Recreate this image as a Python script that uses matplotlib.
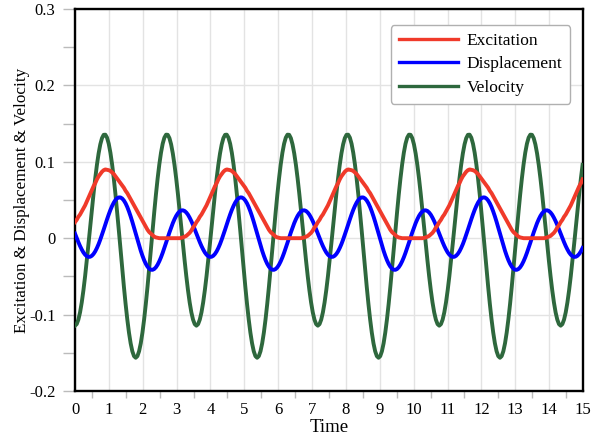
import numpy as np
import matplotlib
matplotlib.use('Agg')
import matplotlib.pyplot as plt

# 72 samples per cycle, one cycle ~3.585 s
time = np.arange(302) * 3.585 / 72

excitation = [
    0.021, 0.024, 0.028, 0.031, 0.035, 0.039, 0.043, 0.048, 0.053, 0.058, 0.063, 0.068,
    0.072, 0.077, 0.081, 0.084, 0.087, 0.089, 0.090, 0.0895, 0.089, 0.088, 0.086, 0.084,
    0.081, 0.078, 0.075, 0.072, 0.069, 0.066, 0.062, 0.059, 0.055, 0.051, 0.047, 0.043,
    0.039, 0.035, 0.031, 0.027, 0.023, 0.019, 0.015, 0.011, 0.008, 0.006, 0.004, 0.002,
    0.001, 0.0005, 0.000, 0.000, 0.000, 0.000, 0.000, 0.000, 0.000, 0.000, 0.000, 0.000,
    0.000, 0.000, 0.000, 0.0005, 0.001, 0.002, 0.003, 0.005, 0.007, 0.010, 0.014, 0.017,
    0.021, 0.024, 0.028, 0.031, 0.035, 0.039, 0.043, 0.048, 0.053, 0.058, 0.063, 0.068,
    0.072, 0.077, 0.081, 0.084, 0.087, 0.089, 0.090, 0.0895, 0.089, 0.088, 0.086, 0.084,
    0.081, 0.078, 0.075, 0.072, 0.069, 0.066, 0.062, 0.059, 0.055, 0.051, 0.047, 0.043,
    0.039, 0.035, 0.031, 0.027, 0.023, 0.019, 0.015, 0.011, 0.008, 0.006, 0.004, 0.002,
    0.001, 0.0005, 0.000, 0.000, 0.000, 0.000, 0.000, 0.000, 0.000, 0.000, 0.000, 0.000,
    0.000, 0.000, 0.000, 0.0005, 0.001, 0.002, 0.003, 0.005, 0.007, 0.010, 0.014, 0.017,
    0.021, 0.024, 0.028, 0.031, 0.035, 0.039, 0.043, 0.048, 0.053, 0.058, 0.063, 0.068,
    0.072, 0.077, 0.081, 0.084, 0.087, 0.089, 0.090, 0.0895, 0.089, 0.088, 0.086, 0.084,
    0.081, 0.078, 0.075, 0.072, 0.069, 0.066, 0.062, 0.059, 0.055, 0.051, 0.047, 0.043,
    0.039, 0.035, 0.031, 0.027, 0.023, 0.019, 0.015, 0.011, 0.008, 0.006, 0.004, 0.002,
    0.001, 0.0005, 0.000, 0.000, 0.000, 0.000, 0.000, 0.000, 0.000, 0.000, 0.000, 0.000,
    0.000, 0.000, 0.000, 0.0005, 0.001, 0.002, 0.003, 0.005, 0.007, 0.010, 0.014, 0.017,
    0.021, 0.024, 0.028, 0.031, 0.035, 0.039, 0.043, 0.048, 0.053, 0.058, 0.063, 0.068,
    0.072, 0.077, 0.081, 0.084, 0.087, 0.089, 0.090, 0.0895, 0.089, 0.088, 0.086, 0.084,
    0.081, 0.078, 0.075, 0.072, 0.069, 0.066, 0.062, 0.059, 0.055, 0.051, 0.047, 0.043,
    0.039, 0.035, 0.031, 0.027, 0.023, 0.019, 0.015, 0.011, 0.008, 0.006, 0.004, 0.002,
    0.001, 0.0005, 0.000, 0.000, 0.000, 0.000, 0.000, 0.000, 0.000, 0.000, 0.000, 0.000,
    0.000, 0.000, 0.000, 0.0005, 0.001, 0.002, 0.003, 0.005, 0.007, 0.010, 0.014, 0.017,
    0.021, 0.024, 0.028, 0.031, 0.035, 0.039, 0.043, 0.048, 0.053, 0.058, 0.063, 0.068,
    0.072, 0.077,
]

displacement = [
    0.0060, 0.0003, -0.0052, -0.0103, -0.0148, -0.0187, -0.0216, -0.0236, -0.0245, -0.0243, -0.0230, -0.0206,
    -0.0172, -0.0128, -0.0077, -0.0018, 0.0046, 0.0112, 0.0180, 0.0247, 0.0311, 0.0370, 0.0422, 0.0466,
    0.0500, 0.0523, 0.0534, 0.0533, 0.0519, 0.0493, 0.0456, 0.0408, 0.0350, 0.0285, 0.0214, 0.0138,
    0.0060, -0.0018, -0.0094, -0.0165, -0.0230, -0.0288, -0.0336, -0.0373, -0.0399, -0.0413, -0.0414, -0.0403,
    -0.0380, -0.0346, -0.0302, -0.0250, -0.0191, -0.0127, -0.0060, 0.0008, 0.0075, 0.0138, 0.0197, 0.0248,
    0.0292, 0.0326, 0.0350, 0.0363, 0.0365, 0.0356, 0.0336, 0.0307, 0.0268, 0.0223, 0.0172, 0.0117,
    0.0060, 0.0003, -0.0052, -0.0103, -0.0148, -0.0187, -0.0216, -0.0236, -0.0245, -0.0243, -0.0230, -0.0206,
    -0.0172, -0.0128, -0.0077, -0.0018, 0.0046, 0.0112, 0.0180, 0.0247, 0.0311, 0.0370, 0.0422, 0.0466,
    0.0500, 0.0523, 0.0534, 0.0533, 0.0519, 0.0493, 0.0456, 0.0408, 0.0350, 0.0285, 0.0214, 0.0138,
    0.0060, -0.0018, -0.0094, -0.0165, -0.0230, -0.0288, -0.0336, -0.0373, -0.0399, -0.0413, -0.0414, -0.0403,
    -0.0380, -0.0346, -0.0302, -0.0250, -0.0191, -0.0127, -0.0060, 0.0008, 0.0075, 0.0138, 0.0197, 0.0248,
    0.0292, 0.0326, 0.0350, 0.0363, 0.0365, 0.0356, 0.0336, 0.0307, 0.0268, 0.0223, 0.0172, 0.0117,
    0.0060, 0.0003, -0.0052, -0.0103, -0.0148, -0.0187, -0.0216, -0.0236, -0.0245, -0.0243, -0.0230, -0.0206,
    -0.0172, -0.0128, -0.0077, -0.0018, 0.0046, 0.0112, 0.0180, 0.0247, 0.0311, 0.0370, 0.0422, 0.0466,
    0.0500, 0.0523, 0.0534, 0.0533, 0.0519, 0.0493, 0.0456, 0.0408, 0.0350, 0.0285, 0.0214, 0.0138,
    0.0060, -0.0018, -0.0094, -0.0165, -0.0230, -0.0288, -0.0336, -0.0373, -0.0399, -0.0413, -0.0414, -0.0403,
    -0.0380, -0.0346, -0.0302, -0.0250, -0.0191, -0.0127, -0.0060, 0.0008, 0.0075, 0.0138, 0.0197, 0.0248,
    0.0292, 0.0326, 0.0350, 0.0363, 0.0365, 0.0356, 0.0336, 0.0307, 0.0268, 0.0223, 0.0172, 0.0117,
    0.0060, 0.0003, -0.0052, -0.0103, -0.0148, -0.0187, -0.0216, -0.0236, -0.0245, -0.0243, -0.0230, -0.0206,
    -0.0172, -0.0128, -0.0077, -0.0018, 0.0046, 0.0112, 0.0180, 0.0247, 0.0311, 0.0370, 0.0422, 0.0466,
    0.0500, 0.0523, 0.0534, 0.0533, 0.0519, 0.0493, 0.0456, 0.0408, 0.0350, 0.0285, 0.0214, 0.0138,
    0.0060, -0.0018, -0.0094, -0.0165, -0.0230, -0.0288, -0.0336, -0.0373, -0.0399, -0.0413, -0.0414, -0.0403,
    -0.0380, -0.0346, -0.0302, -0.0250, -0.0191, -0.0127, -0.0060, 0.0008, 0.0075, 0.0138, 0.0197, 0.0248,
    0.0292, 0.0326, 0.0350, 0.0363, 0.0365, 0.0356, 0.0336, 0.0307, 0.0268, 0.0223, 0.0172, 0.0117,
    0.0060, 0.0003, -0.0052, -0.0103, -0.0148, -0.0187, -0.0216, -0.0236, -0.0245, -0.0243, -0.0230, -0.0206,
    -0.0172, -0.0128,
]

velocity = [
    -0.1145, -0.1125, -0.1066, -0.0971, -0.0841, -0.0681, -0.0496, -0.0291, -0.0074, 0.0148, 0.0370, 0.0584,
    0.0783, 0.0960, 0.1110, 0.1228, 0.1310, 0.1353, 0.1355, 0.1316, 0.1237, 0.1119, 0.0966, 0.0782,
    0.0573, 0.0343, 0.0100, -0.0148, -0.0396, -0.0635, -0.0859, -0.1061, -0.1235, -0.1376, -0.1480, -0.1544,
    -0.1565, -0.1544, -0.1480, -0.1376, -0.1235, -0.1061, -0.0859, -0.0635, -0.0396, -0.0148, 0.0100, 0.0343,
    0.0573, 0.0782, 0.0966, 0.1119, 0.1237, 0.1316, 0.1355, 0.1353, 0.1310, 0.1228, 0.1110, 0.0960,
    0.0783, 0.0584, 0.0370, 0.0148, -0.0074, -0.0291, -0.0496, -0.0681, -0.0841, -0.0971, -0.1066, -0.1125,
    -0.1145, -0.1125, -0.1066, -0.0971, -0.0841, -0.0681, -0.0496, -0.0291, -0.0074, 0.0148, 0.0370, 0.0584,
    0.0783, 0.0960, 0.1110, 0.1228, 0.1310, 0.1353, 0.1355, 0.1316, 0.1237, 0.1119, 0.0966, 0.0782,
    0.0573, 0.0343, 0.0100, -0.0148, -0.0396, -0.0635, -0.0859, -0.1061, -0.1235, -0.1376, -0.1480, -0.1544,
    -0.1565, -0.1544, -0.1480, -0.1376, -0.1235, -0.1061, -0.0859, -0.0635, -0.0396, -0.0148, 0.0100, 0.0343,
    0.0573, 0.0782, 0.0966, 0.1119, 0.1237, 0.1316, 0.1355, 0.1353, 0.1310, 0.1228, 0.1110, 0.0960,
    0.0783, 0.0584, 0.0370, 0.0148, -0.0074, -0.0291, -0.0496, -0.0681, -0.0841, -0.0971, -0.1066, -0.1125,
    -0.1145, -0.1125, -0.1066, -0.0971, -0.0841, -0.0681, -0.0496, -0.0291, -0.0074, 0.0148, 0.0370, 0.0584,
    0.0783, 0.0960, 0.1110, 0.1228, 0.1310, 0.1353, 0.1355, 0.1316, 0.1237, 0.1119, 0.0966, 0.0782,
    0.0573, 0.0343, 0.0100, -0.0148, -0.0396, -0.0635, -0.0859, -0.1061, -0.1235, -0.1376, -0.1480, -0.1544,
    -0.1565, -0.1544, -0.1480, -0.1376, -0.1235, -0.1061, -0.0859, -0.0635, -0.0396, -0.0148, 0.0100, 0.0343,
    0.0573, 0.0782, 0.0966, 0.1119, 0.1237, 0.1316, 0.1355, 0.1353, 0.1310, 0.1228, 0.1110, 0.0960,
    0.0783, 0.0584, 0.0370, 0.0148, -0.0074, -0.0291, -0.0496, -0.0681, -0.0841, -0.0971, -0.1066, -0.1125,
    -0.1145, -0.1125, -0.1066, -0.0971, -0.0841, -0.0681, -0.0496, -0.0291, -0.0074, 0.0148, 0.0370, 0.0584,
    0.0783, 0.0960, 0.1110, 0.1228, 0.1310, 0.1353, 0.1355, 0.1316, 0.1237, 0.1119, 0.0966, 0.0782,
    0.0573, 0.0343, 0.0100, -0.0148, -0.0396, -0.0635, -0.0859, -0.1061, -0.1235, -0.1376, -0.1480, -0.1544,
    -0.1565, -0.1544, -0.1480, -0.1376, -0.1235, -0.1061, -0.0859, -0.0635, -0.0396, -0.0148, 0.0100, 0.0343,
    0.0573, 0.0782, 0.0966, 0.1119, 0.1237, 0.1316, 0.1355, 0.1353, 0.1310, 0.1228, 0.1110, 0.0960,
    0.0783, 0.0584, 0.0370, 0.0148, -0.0074, -0.0291, -0.0496, -0.0681, -0.0841, -0.0971, -0.1066, -0.1125,
    -0.1145, -0.1125, -0.1066, -0.0971, -0.0841, -0.0681, -0.0496, -0.0291, -0.0074, 0.0148, 0.0370, 0.0584,
    0.0783, 0.0960,
]

x_ticks = list(range(16))
y_ticks = [-0.2, -0.1, 0, 0.1, 0.2, 0.3]
y_tick_labels = ['-0.2', '-0.1', '0', '0.1', '0.2', '0.3']

plt.rcParams['font.family'] = ['Liberation Serif', 'DejaVu Serif']

fig = plt.figure(figsize=(6, 4.37), dpi=100)
ax = fig.add_axes([0.125, 0.1053, 0.8467, 0.8741])

ax.plot(time, velocity, color='#2e683d', lw=2.8, label='Velocity', zorder=3)
ax.plot(time, displacement, color='#0000ff', lw=2.8, label='Displacement', zorder=4)
ax.plot(time, excitation, color='#f03a2a', lw=2.8, label='Excitation', zorder=5)

ax.set_xlim(0, 15)
ax.set_ylim(-0.2, 0.3)
ax.set_xticks(x_ticks)
ax.set_xticks(np.arange(0.5, 15, 1.0), minor=True)
ax.set_yticks(y_ticks)
ax.set_yticklabels(y_tick_labels)
ax.set_yticks([-0.15, -0.05, 0.05, 0.15, 0.25], minor=True)

ax.tick_params(axis='x', which='major', length=0, pad=8, labelsize=12)
ax.tick_params(axis='x', which='minor', length=5, width=1, color='#bbbbbb')
ax.tick_params(axis='y', which='both', length=9, width=1, color='#bbbbbb', pad=5, labelsize=12)

ax.grid(True, which='major', color='#e3e3e3', lw=1)
ax.set_axisbelow(True)
for side in ['left', 'bottom', 'top', 'right']:
    ax.spines[side].set_linewidth(1.7)
    ax.spines[side].set_color('black')

ax.set_xlabel('Time', fontsize=13.5, labelpad=1)
ax.set_ylabel('Excitation & Displacement & Velocity', fontsize=12.3, labelpad=-1)

handles, labels = ax.get_legend_handles_labels()
order = [2, 1, 0]
leg = ax.legend([handles[i] for i in order], [labels[i] for i in order],
                loc='upper right', bbox_to_anchor=(0.9744, 0.958), borderaxespad=0,
                fontsize=12.5, fancybox=True, framealpha=1, edgecolor='#b0b0b0',
                handlelength=3.4, handletextpad=0.5, labelspacing=0.42, borderpad=0.45)
leg.get_frame().set_linewidth(1)
for line in leg.get_lines():
    line.set_linewidth(2.4)

fig.savefig('out.png', dpi=100)
